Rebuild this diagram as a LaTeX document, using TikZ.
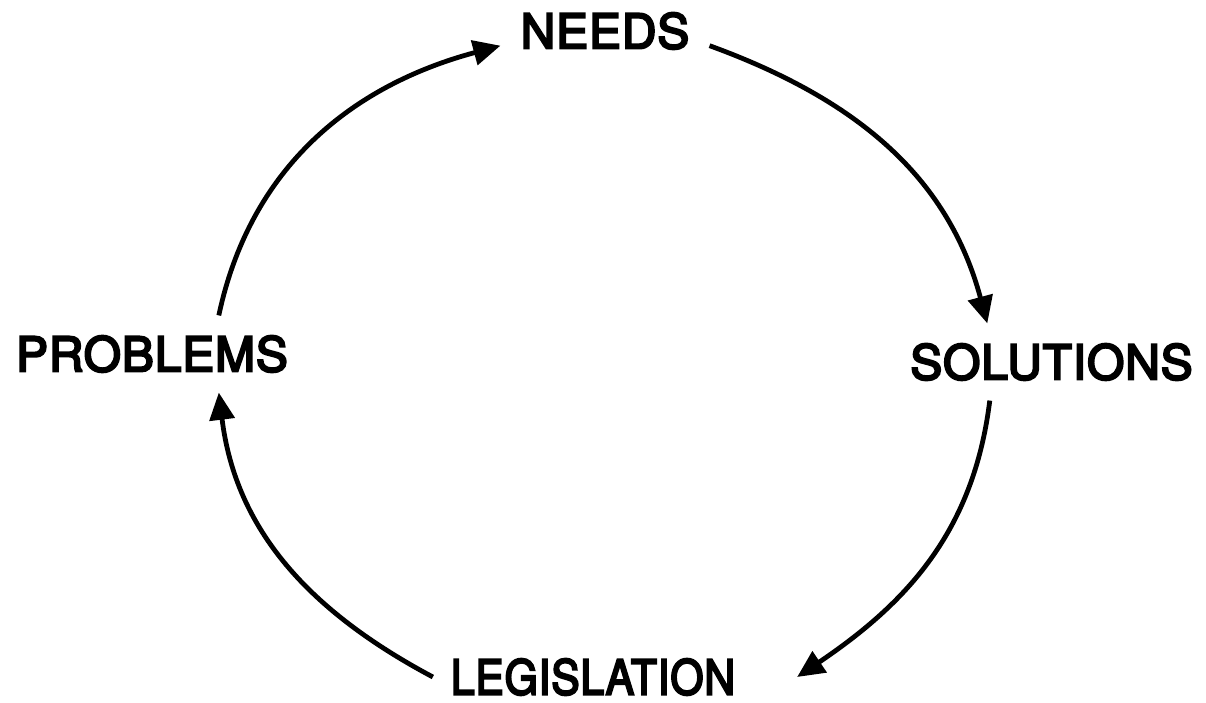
\documentclass[tikz,border=0pt]{standalone}
\usepackage{fontspec}
\setmainfont{TeX Gyre Heros}
\usetikzlibrary{arrows.meta}
\tikzset{
  stage/.style={inner xsep=0.5cm,inner ysep=0.5cm,font=\fontsize{34}{40}\selectfont\addfontfeature{FakeBold=4.5,LetterSpace=2}},
  flow/.style={line width=3.4pt,-{Triangle[length=0.68cm,width=0.62cm]}}
}
\begin{document}
\begin{tikzpicture}[x=0.025cm,y=0.025cm]
  \useasboundingbox (0,0) rectangle (1206,703);
  % the four stages
  \node[stage] (needs) at (605,672) {NEEDS};
  \node[stage] (solutions) at (1051.5,341) {SOLUTIONS};
  \node[stage,inner ysep=0.1cm,xscale=0.89,transform shape] (legislation) at (593,26) {LEGISLATION};
  \node[stage] (problems) at (152,349) {PROBLEMS};
  % arrows round the cycle
  \draw[flow] (needs.-8) to[out=-20,in=105] (solutions.149);
  \draw[flow] (solutions.212) to[out=-97,in=34] ([xshift=1.1cm]legislation.east);
  \draw[flow] (legislation.west) to[out=152,in=-83] (problems.-30);
  \draw[flow] (problems.30) to[out=78,in=195] (needs.188);
\end{tikzpicture}
\end{document}
